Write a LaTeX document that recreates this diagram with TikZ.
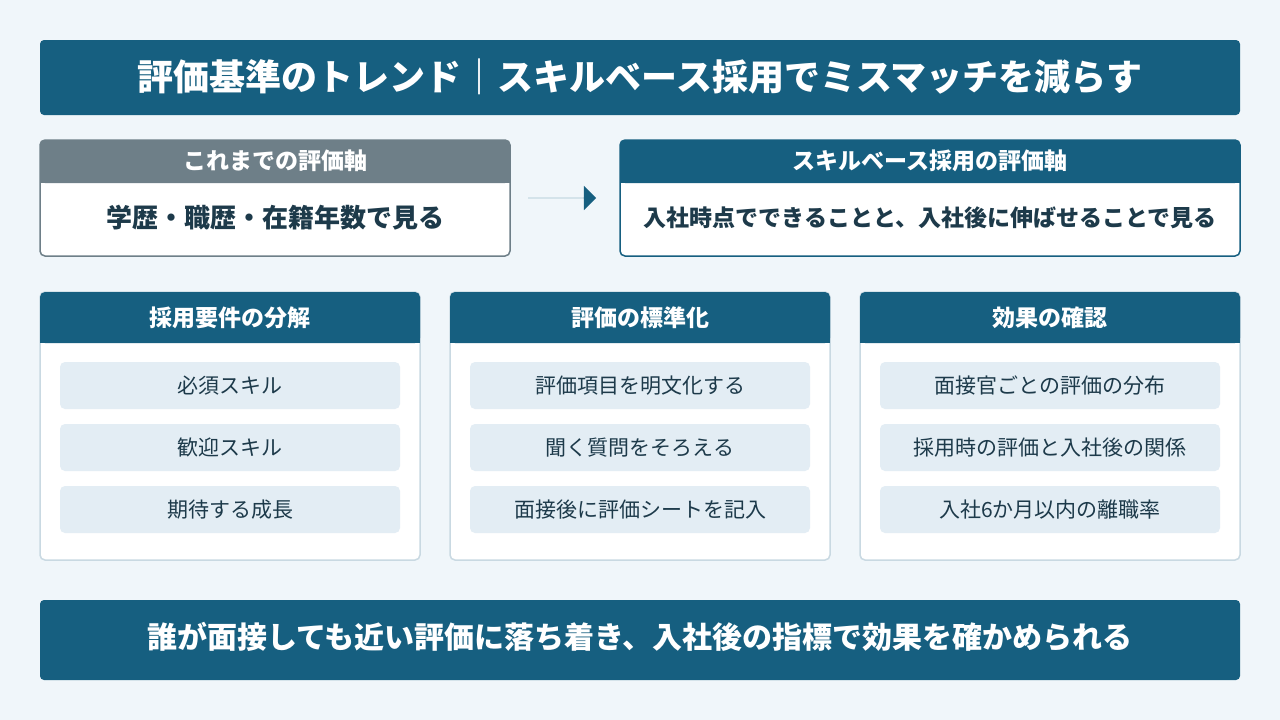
\documentclass[tikz,border=0pt]{standalone}
\usepackage{fontspec}
\setmainfont{Noto Sans CJK JP}
\usetikzlibrary{shapes.arrows}
\definecolor{bg}{HTML}{F0F6FA}
\definecolor{navy}{HTML}{165F80}
\definecolor{gr}{HTML}{6E7F88}
\definecolor{itm}{HTML}{E3EDF4}
\definecolor{cb}{HTML}{C9D9E2}
\definecolor{txt}{HTML}{1D3A4A}
\begin{document}
\begin{tikzpicture}[x=1pt,y=-1pt,
 bar/.style={fill=navy,rounded corners=4pt},
 hd/.style={text=white,font=\fontsize{23}{26}\selectfont\bfseries},
 it/.style={fill=itm,rounded corners=5pt,draw=none},
 itx/.style={text=txt,font=\fontsize{21}{24}\selectfont}]
\fill[bg] (0,0) rectangle (1280,720);
\useasboundingbox (0,0) rectangle (1280,720);
% title
\fill[bar] (40,40) rectangle (1240,115);
\node[text=white,font=\fontsize{36}{40}\selectfont\bfseries] (title) at (640,77) {評価基準のトレンド｜スキルベース採用でミスマッチを減らす};
% old
\draw[gr,fill=white,rounded corners=5pt,line width=1.5pt] (40,140) rectangle (510,256);
\fill[gr,rounded corners=5pt] (40,140) rectangle (510,183);
\fill[gr] (40,170) rectangle (510,183);
\node[hd] (oh) at (275,161) {これまでの評価軸};
\node[text=txt,font=\fontsize{26}{30}\selectfont\bfseries] (ob) at (275,218) {学歴・職歴・在籍年数で見る};
% new
\draw[navy,fill=white,rounded corners=5pt,line width=1.5pt] (620,140) rectangle (1240,256);
\fill[navy,rounded corners=5pt] (620,140) rectangle (1240,183);
\fill[navy] (620,170) rectangle (1240,183);
\node[hd] (nh) at (930,161) {スキルベース採用の評価軸};
\node[text=txt,font=\fontsize{23}{26}\selectfont\bfseries] (nb) at (930,218) {入社時点でできることと、入社後に伸ばせることで見る};
% arrow
\node[single arrow,fill=navy,minimum width=16pt,single arrow head extend=12pt,minimum height=68pt,inner sep=0pt,single arrow tip angle=90,shape border rotate=0] (ar) at (562,198) {};
% cards
\foreach \x/\h/\a/\b/\c [count=\i] in {40/採用要件の分解/必須スキル/歓迎スキル/期待する成長,450/評価の標準化/評価項目を明文化する/聞く質問をそろえる/面接後に評価シートを記入,860/効果の確認/面接官ごとの評価の分布/採用時の評価と入社後の関係/入社6か月以内の離職率}{
 \draw[cb,fill=white,rounded corners=5pt,line width=1.5pt] (\x,292) rectangle ({\x+380},560);
 \fill[navy,rounded corners=5pt] (\x,292) rectangle ({\x+380},343);
 \fill[navy] (\x,330) rectangle ({\x+380},343);
 \node[hd] (h\i) at ({\x+190},318) {\h};
 \fill[it] ({\x+20},362) rectangle ({\x+360},409);
 \node[itx] (a\i) at ({\x+190},385.5) {\a};
 \fill[it] ({\x+20},424) rectangle ({\x+360},471);
 \node[itx] (b\i) at ({\x+190},447.5) {\b};
 \fill[it] ({\x+20},486) rectangle ({\x+360},533);
 \node[itx] (c\i) at ({\x+190},509.5) {\c};
}
% bottom
\fill[bar] (40,600) rectangle (1240,680);
\node[text=white,font=\fontsize{30}{34}\selectfont\bfseries] (bt) at (640,637) {誰が面接しても近い評価に落ち着き、入社後の指標で効果を確かめられる};
\end{tikzpicture}
\end{document}
